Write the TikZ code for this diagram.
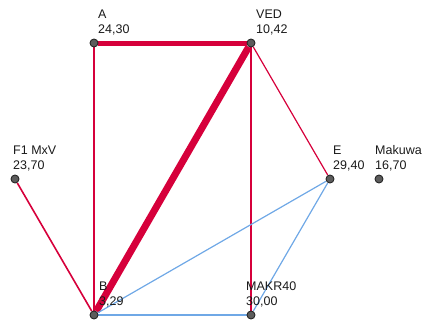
\documentclass[tikz,border=0pt]{standalone}
\usepackage{fontspec}
\setmainfont{Liberation Sans}
\usetikzlibrary{positioning}
\definecolor{LinkRed}{HTML}{D6003B}
\definecolor{LinkBlue}{HTML}{6FA8E6}
\definecolor{DotGrey}{HTML}{5C5C5C}
\definecolor{InkText}{HTML}{1A1A1A}
\pgfdeclarelayer{links}
\pgfsetlayers{links,main}

\begin{document}
\begin{tikzpicture}[x=1pt,y=1pt,
    dot/.style={circle,draw=black!85,fill=DotGrey,line width=.9pt,minimum size=8pt,inner sep=0pt},
    lab/.style={align=left,anchor=south west,inner sep=0pt,text=InkText,
                font=\fontsize{12.5}{14.5}\selectfont},
    poslink/.style={LinkRed,line width=1.2pt},
    neglink/.style={LinkBlue,line width=1.2pt}]
    \useasboundingbox (0,0) rectangle (428,325);
    % variables
    \node[dot] (A) at (94,282) {};
    \node[dot] (VED) at (251,282) {};
    \node[dot] (F1) at (15,146) {};
    \node[dot] (E) at (330,146) {};
    \node[dot] (Mak) at (379,146) {};
    \node[dot] (B) at (94,10) {};
    \node[dot] (MAKR) at (251,10) {};
    % labels
    \node[lab] (A-l) at ([shift={(4,8)}]A) {A\\24,30};
    \node[lab] (VED-l) at ([shift={(5,8)}]VED) {VED\\10,42};
    \node[lab] (F1-l) at ([shift={(-2,8)}]F1) {F1 MxV\\23,70};
    \node[lab] (E-l) at ([shift={(3,8)}]E) {E\\29,40};
    \node[lab] (Mak-l) at ([shift={(-4,8)}]Mak) {Makuwa\\16,70};
    \node[lab] (B-l) at ([shift={(5,8)}]B) {B\\3,29};
    \node[lab] (MAKR-l) at ([shift={(-5,8)}]MAKR) {MAKR40\\30,00};
    % links
    \begin{pgfonlayer}{links}
    \draw[poslink,line width=5pt] (A) -- (VED);
    \draw[poslink,line width=7pt] (VED) -- (B);
    \draw[poslink] (A) -- (B);
    \draw[poslink] (VED) -- (MAKR);
    \draw[poslink] (VED) -- (E);
    \draw[poslink,line width=1.6pt] (F1) -- (B);
    \draw[neglink] (E) -- (B);
    \draw[neglink] (E) -- (MAKR);
    \draw[neglink] (B) -- (MAKR);
    \end{pgfonlayer}
\end{tikzpicture}
\end{document}
